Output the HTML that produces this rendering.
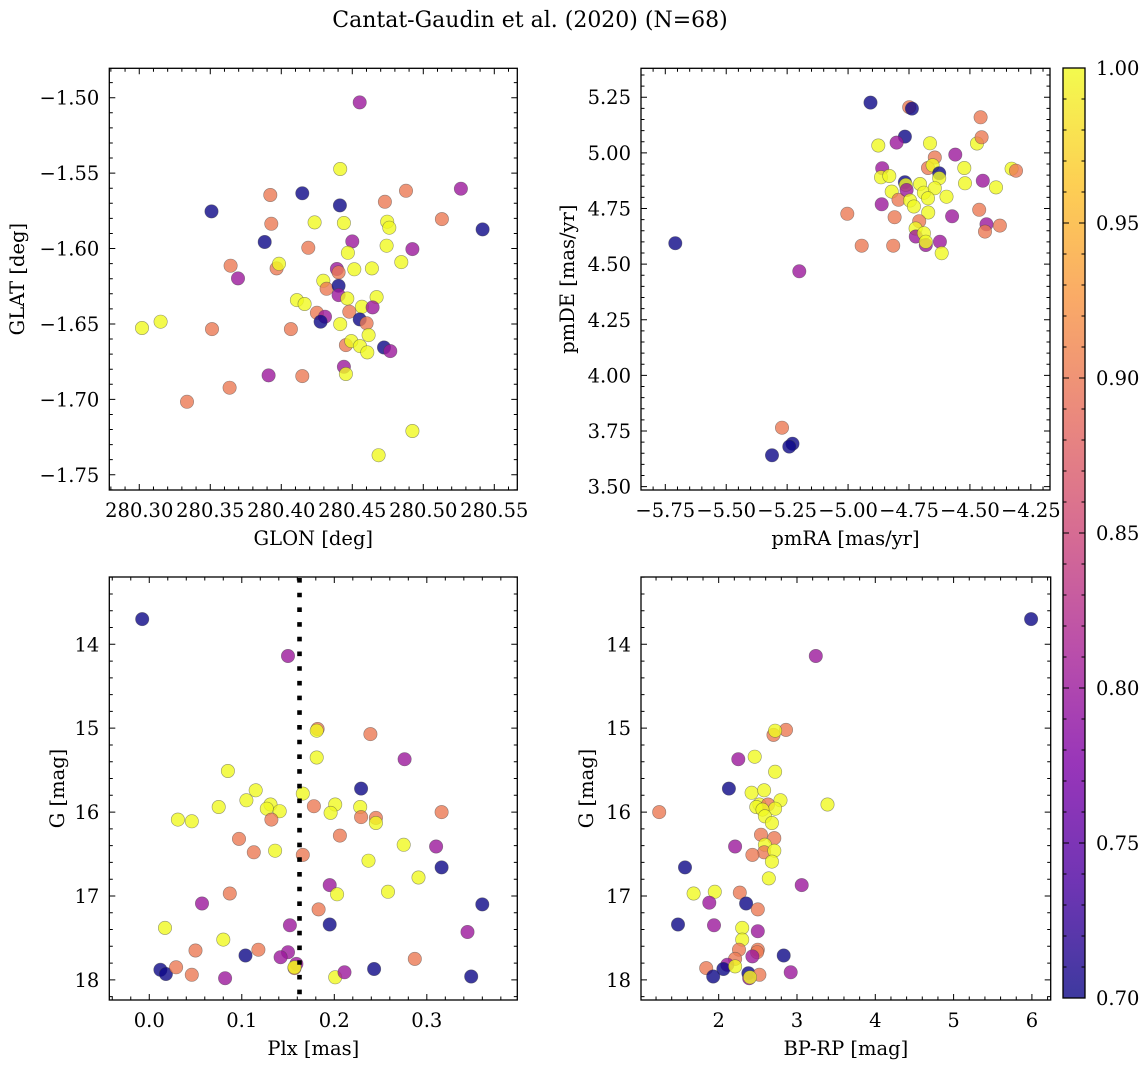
<!DOCTYPE html>
<html><head><meta charset="utf-8"><title>Cantat-Gaudin et al. (2020)</title>
<style>
html,body{margin:0;padding:0;background:#fff;}
svg{display:block;font-family:"DejaVu Serif","Liberation Serif",serif;}
</style></head>
<body>
<svg id="fig" width="1148" height="1067" viewBox="0 0 1148 1067" xmlns="http://www.w3.org/2000/svg">
<rect x="0" y="0" width="1148" height="1067" fill="#fff"/>
<text x="530" y="27" text-anchor="middle" font-size="22" fill="#000">Cantat-Gaudin et al. (2020) (N=68)</text>
</svg>
<script>
// ---- Panel 1: GLON vs GLAT ----
const glon1 = [280.4552,280.4415,280.3923,280.4148,280.4413,280.3509,280.3930,280.4235,280.4441,280.4730,280.4878,280.4746,280.4761,280.5131,280.5265,280.5418,280.3883,280.4500,280.4190,280.4469,280.4742,280.4923,280.4845,280.3643,280.3695,280.3967,280.3984,280.4392,280.4404,280.4514,280.4638,280.4296,280.4319,280.4404,280.4404,280.4465,280.4671,280.4110,280.4164,280.4568,280.4643,280.4479,280.4251,280.4308,280.4277,280.4552,280.4601,280.4415,280.4615,280.4455,280.4493,280.4554,280.4606,280.4723,280.4768,280.4441,280.4455,280.4068,280.3019,280.3150,280.3512,280.3911,280.4148,280.3636,280.3336,280.4923,280.4685];
const glat1 = [-1.5031,-1.5473,-1.5645,-1.5634,-1.5714,-1.5754,-1.5836,-1.5827,-1.5831,-1.5690,-1.5617,-1.5822,-1.5862,-1.5805,-1.5603,-1.5873,-1.5957,-1.5953,-1.5995,-1.6028,-1.5981,-1.6004,-1.6090,-1.6114,-1.6198,-1.6132,-1.6101,-1.6136,-1.6158,-1.6138,-1.6132,-1.6214,-1.6267,-1.6247,-1.6309,-1.6331,-1.6322,-1.6342,-1.6368,-1.6386,-1.6390,-1.6419,-1.6426,-1.6452,-1.6485,-1.6470,-1.6496,-1.6501,-1.6574,-1.6640,-1.6614,-1.6647,-1.6689,-1.6656,-1.6680,-1.6784,-1.6832,-1.6534,-1.6527,-1.6485,-1.6534,-1.6841,-1.6846,-1.6923,-1.7016,-1.7210,-1.7370];
const prob1 = [0.80,1.00,0.90,0.70,0.70,0.70,0.90,1.00,1.00,0.90,0.90,1.00,1.00,0.90,0.80,0.70,0.70,0.80,0.90,1.00,1.00,0.80,1.00,0.90,0.80,0.90,1.00,0.80,0.90,1.00,1.00,1.00,0.90,0.70,0.80,1.00,1.00,1.00,1.00,1.00,0.80,0.90,0.90,0.80,0.70,0.70,0.90,1.00,1.00,0.90,1.00,1.00,1.00,0.70,0.80,0.80,1.00,0.90,1.00,1.00,0.90,0.80,0.90,0.90,0.90,1.00,1.00];
const xticks1 = [280.30,280.35,280.40,280.45,280.50,280.55];
const xtickLabels1 = ["280.30","280.35","280.40","280.45","280.50","280.55"];
const yticks1 = [-1.50,-1.55,-1.60,-1.65,-1.70,-1.75];
const ytickLabels1 = ["−1.50","−1.55","−1.60","−1.65","−1.70","−1.75"];

// ---- Panel 2: pmRA vs pmDE ----
const pmra2 = [-5.709,-5.200,-5.271,-5.228,-5.241,-5.312,-4.908,-4.749,-4.738,-4.767,-4.456,-4.876,-4.801,-4.664,-4.471,-4.452,-4.560,-4.644,-4.860,-4.865,-4.831,-4.672,-4.653,-4.626,-4.626,-4.523,-4.520,-4.329,-4.311,-4.447,-4.393,-4.767,-4.763,-4.821,-4.793,-4.760,-4.705,-4.689,-4.644,-4.672,-4.596,-4.746,-4.730,-4.862,-5.003,-4.809,-4.671,-4.573,-4.462,-4.708,-4.723,-4.722,-4.689,-4.681,-4.681,-4.623,-4.616,-4.432,-4.438,-4.377,-4.944,-4.815];
const pmde2 = [4.594,4.468,3.765,3.693,3.680,3.641,5.226,5.205,5.199,5.073,5.160,5.033,5.046,5.043,5.042,5.070,4.992,4.979,4.931,4.890,4.896,4.932,4.944,4.908,4.886,4.932,4.863,4.929,4.920,4.875,4.845,4.868,4.856,4.826,4.789,4.833,4.860,4.821,4.841,4.796,4.803,4.786,4.759,4.769,4.726,4.711,4.732,4.715,4.744,4.693,4.660,4.624,4.639,4.586,4.601,4.601,4.549,4.679,4.646,4.673,4.583,4.583];
const prob2 = [0.70,0.80,0.90,0.70,0.70,0.70,0.70,0.90,0.70,0.70,0.90,1.00,0.80,1.00,1.00,0.90,0.80,0.90,0.80,1.00,1.00,0.90,1.00,0.70,1.00,1.00,1.00,1.00,0.90,0.80,1.00,0.70,1.00,1.00,0.90,0.80,1.00,1.00,1.00,1.00,1.00,1.00,1.00,0.80,0.90,0.90,1.00,0.80,0.90,0.90,1.00,0.80,1.00,0.80,1.00,0.80,1.00,0.80,0.90,0.90,0.90,0.90];
const xticks2 = [-5.75,-5.50,-5.25,-5.00,-4.75,-4.50,-4.25];
const xtickLabels2 = ["−5.75","−5.50","−5.25","−5.00","−4.75","−4.50","−4.25"];
const yticks2 = [5.25,5.00,4.75,4.50,4.25,4.00,3.75,3.50];
const ytickLabels2 = ["5.25","5.00","4.75","4.50","4.25","4.00","3.75","3.50"];

// ---- Panel 3: Plx vs G ----
const plx3 = [-0.0076,0.150,0.182,0.181,0.239,0.181,0.276,0.085,0.229,0.115,0.166,0.105,0.075,0.131,0.127,0.141,0.132,0.178,0.201,0.196,0.228,0.229,0.245,0.245,0.316,0.031,0.046,0.097,0.206,0.113,0.136,0.166,0.275,0.310,0.237,0.316,0.291,0.195,0.203,0.258,0.087,0.057,0.360,0.183,0.195,0.152,0.017,0.344,0.080,0.050,0.118,0.104,0.150,0.142,0.287,0.012,0.018,0.029,0.046,0.082,0.159,0.157,0.157,0.243,0.201,0.211,0.348];
const gmag3 = [13.70,14.14,15.01,15.03,15.07,15.35,15.37,15.51,15.72,15.74,15.78,15.86,15.94,15.91,15.96,15.99,16.09,15.93,15.91,16.01,15.94,16.06,16.07,16.13,16.00,16.09,16.11,16.32,16.28,16.48,16.46,16.51,16.39,16.41,16.58,16.66,16.78,16.87,16.98,16.95,16.97,17.09,17.10,17.16,17.34,17.35,17.38,17.43,17.52,17.65,17.64,17.71,17.67,17.73,17.75,17.88,17.93,17.85,17.94,17.98,17.81,17.86,17.85,17.87,17.97,17.91,17.96];
const prob3 = [0.70,0.80,0.90,1.00,0.90,1.00,0.80,1.00,0.70,1.00,1.00,1.00,1.00,1.00,1.00,1.00,0.90,0.90,1.00,1.00,1.00,0.90,0.90,1.00,0.90,1.00,1.00,0.90,0.90,0.90,1.00,0.90,1.00,0.80,1.00,0.70,1.00,0.80,1.00,1.00,0.90,0.80,0.70,0.90,0.70,0.80,1.00,0.80,1.00,0.90,0.90,0.70,0.80,0.80,0.90,0.70,0.70,0.90,0.90,0.80,0.80,0.90,1.00,0.70,1.00,0.80,0.70];
const xticks3 = [0.0,0.1,0.2,0.3];
const xtickLabels3 = ["0.0","0.1","0.2","0.3"];
const gticks = [14,15,16,17,18];
const gtickLabels = ["14","15","16","17","18"];
const plxCut = [0.1624];

// ---- Panel 4: BP-RP vs G ----
const bprp4 = [5.99,3.24,2.86,2.70,2.72,2.46,2.25,2.72,2.13,2.42,2.58,2.79,3.39,2.52,2.63,2.48,2.72,2.56,2.59,2.68,1.24,2.54,2.71,2.59,2.21,2.58,2.71,2.43,2.68,1.57,2.64,3.06,1.68,1.95,2.27,1.88,2.35,2.50,1.48,1.94,2.30,2.50,2.30,2.26,2.50,2.49,2.43,2.83,2.21,2.11,2.06,1.84,2.21,1.93,2.92,2.38,2.52,2.39,2.40];
const gmag4 = [13.70,14.14,15.02,15.08,15.03,15.34,15.37,15.52,15.72,15.77,15.74,15.86,15.91,15.91,15.91,15.94,15.96,15.97,16.05,16.13,16.00,16.27,16.31,16.39,16.41,16.48,16.46,16.51,16.59,16.66,16.79,16.87,16.97,16.95,16.96,17.08,17.09,17.16,17.34,17.35,17.38,17.42,17.52,17.64,17.64,17.67,17.72,17.71,17.75,17.82,17.87,17.86,17.84,17.96,17.91,17.92,17.94,17.98,17.97];
const prob4 = [0.70,0.80,0.90,0.90,1.00,1.00,0.80,1.00,0.70,1.00,1.00,1.00,1.00,1.00,0.90,1.00,1.00,1.00,1.00,1.00,0.90,0.90,0.90,1.00,0.80,0.90,1.00,0.90,1.00,0.70,1.00,0.80,1.00,1.00,0.90,0.80,0.70,0.90,0.70,0.80,1.00,0.80,1.00,0.90,0.90,0.90,0.80,0.70,0.90,0.80,0.70,0.90,1.00,0.70,0.80,0.70,0.90,0.80,1.00];
const xticks4 = [2,3,4,5,6];
const xtickLabels4 = ["2","3","4","5","6"];

// ---- Colorbar ----
const cbarTicks = [0.70,0.75,0.80,0.85,0.90,0.95,1.00];
const cbarTickLabels = ["0.70","0.75","0.80","0.85","0.90","0.95","1.00"];

const NS = "http://www.w3.org/2000/svg";
const svg = document.getElementById('fig');
const FS = 19.5;
const plasmaStops = ["#0d0887","#4c02a1","#7e03a8","#a92395","#cc4778","#e56b5d","#f89441","#fdc328","#f0f921"];
function hex2rgb(h){return [parseInt(h.slice(1,3),16),parseInt(h.slice(3,5),16),parseInt(h.slice(5,7),16)];}
function plasma(t){
  t=Math.max(0,Math.min(1,t));
  const n=plasmaStops.length-1, f=t*n, i=Math.min(n-1,Math.floor(f)), r=f-i;
  const a=hex2rgb(plasmaStops[i]), b=hex2rgb(plasmaStops[i+1]);
  return "rgb("+a.map((v,k)=>Math.round(v+(b[k]-v)*r)).join(",")+")";
}
const vmin=0.70, vmax=1.00;
function mk(tag, attrs, parent){
  const e=document.createElementNS(NS,tag);
  for(const k in attrs) e.setAttribute(k, attrs[k]);
  (parent||svg).appendChild(e); return e;
}

function panel(name, box, xdom, ydom, xt, xtl, yt, ytl, xminor, yminor, xlabel, ylabel, ylabelX, xs, ys, ps){
  const g=mk('g',{});
  
  
  const sx=v=>box.x+(v-xdom[0])/(xdom[1]-xdom[0])*box.w;
  const sy=v=>box.y+(v-ydom[0])/(ydom[1]-ydom[0])*box.h;
  const pg=mk('g',{},g);
  
  
  for(let i=0;i<xs.length;i++){
    const c=mk('circle',{cx:sx(xs[i]).toFixed(1),cy:sy(ys[i]).toFixed(1),r:6.7,fill:plasma((ps[i]-vmin)/(vmax-vmin)),'fill-opacity':0.8,stroke:'#444','stroke-opacity':0.55,'stroke-width':0.6},pg);
    
    
  }
  const fr=mk('rect',{x:box.x,y:box.y,width:box.w,height:box.h,fill:'none',stroke:'#000','stroke-width':1.3},g);
  
  
  let d='';
  const xmin=Math.min(...xdom), xmax=Math.max(...xdom), ymin=Math.min(...ydom), ymax=Math.max(...ydom);
  const start=Math.ceil(xmin/xminor-1e-6);
  for(let k=start;k*xminor<=xmax+1e-9;k++){
    const v=k*xminor, X=sx(v);
    const major=xt.some(t=>Math.abs(t-v)<xminor*0.1);
    const L=major?6:3.5;
    d+=`M${X} ${box.y+box.h}v${-L}M${X} ${box.y}v${L}`;
  }
  const ys0=Math.ceil(ymin/yminor-1e-6);
  for(let k=ys0;k*yminor<=ymax+1e-9;k++){
    const v=k*yminor, Y=sy(v);
    const major=yt.some(t=>Math.abs(t-v)<yminor*0.1);
    const L=major?6:3.5;
    d+=`M${box.x} ${Y}h${L}M${box.x+box.w} ${Y}h${-L}`;
  }
  const tp=mk('path',{d:d,stroke:'#000','stroke-width':1,fill:'none'},g);
  
  
  xt.forEach((v,i)=>{
    const t=mk('text',{x:sx(v),y:box.y+box.h+27,'text-anchor':'middle','font-size':FS},g);
    t.textContent=xtl[i];
    
    
  });
  yt.forEach((v,i)=>{
    const t=mk('text',{x:box.x-10,y:sy(v)+7,'text-anchor':'end','font-size':FS},g);
    t.textContent=ytl[i];
    
    
  });
  const xl=mk('text',{x:box.x+box.w/2,y:box.y+box.h+55,'text-anchor':'middle','font-size':FS},g);
  xl.textContent=xlabel;
  
  
  const cy=box.y+box.h/2;
  const yl=mk('text',{x:ylabelX,y:cy,'text-anchor':'middle','font-size':FS,transform:`rotate(-90 ${ylabelX} ${cy})`},g);
  yl.textContent=ylabel;
  
  
  return {sx,sy,g};
}

panel('glon-glat-panel',{x:109.3,y:68.3,w:408,h:421.7},[280.2789,280.5662],[-1.4805,-1.7601],
  xticks1,xtickLabels1,yticks1,ytickLabels1,0.01,0.01,'GLON [deg]','GLAT [deg]',24,glon1,glat1,prob1);
panel('pm-panel',{x:641,y:68.3,w:409,h:421.7},[-5.8497,-4.1714],[5.380,3.485],
  xticks2,xtickLabels2,yticks2,ytickLabels2,0.05,0.05,'pmRA [mas/yr]','pmDE [mas/yr]',574,pmra2,pmde2,prob2);
const p3=panel('plx-g-panel',{x:109.3,y:577,w:408,h:423},[-0.0432,0.3978],[13.198,18.24],
  xticks3,xtickLabels3,gticks,gtickLabels,0.02,0.2,'Plx [mas]','G [mag]',64,plx3,gmag3,prob3);
panel('cmd-panel',{x:641,y:577,w:409.7,h:423},[1.008,6.24],[13.198,18.24],
  xticks4,xtickLabels4,gticks,gtickLabels,0.2,0.2,'BP-RP [mag]','G [mag]',593,bprp4,gmag4,prob4);

plxCut.forEach(v=>{
  const X=p3.sx(v);
  const ln=mk('line',{x1:X,x2:X,y1:578,y2:1000,stroke:'#000','stroke-width':4.6,'stroke-dasharray':'4.6 10.1'});
  
  
});

const cb={x:1063,y:68,w:22,h:930};
const defs=mk('defs',{});
const lg=mk('linearGradient',{id:'cbg',x1:0,y1:1,x2:0,y2:0},defs);
plasmaStops.forEach((c,i)=>mk('stop',{offset:(i/(plasmaStops.length-1)),'stop-color':c},lg));
const cbg=mk('g',{});


mk('rect',{x:cb.x,y:cb.y,width:cb.w,height:cb.h,fill:'url(#cbg)','fill-opacity':0.8},cbg);
mk('rect',{x:cb.x,y:cb.y,width:cb.w,height:cb.h,fill:'none',stroke:'#000','stroke-width':1.3},cbg);
const cy=v=>cb.y+(vmax-v)/(vmax-vmin)*cb.h;
let cd='';
for(let k=70;k<=100;k++){
  const v=k/100, Y=cy(v), major=(k%5===0), L=major?6:3.5;
  cd+=`M${cb.x} ${Y}h${L}M${cb.x+cb.w} ${Y}h${-L}`;
}
mk('path',{d:cd,stroke:'#000','stroke-width':1,fill:'none'},cbg);
cbarTicks.forEach((v,i)=>{
  const t=mk('text',{x:cb.x+cb.w+11,y:cy(v)+7,'font-size':FS},cbg);
  t.textContent=cbarTickLabels[i];
  
  
});
</script>
</body></html>
